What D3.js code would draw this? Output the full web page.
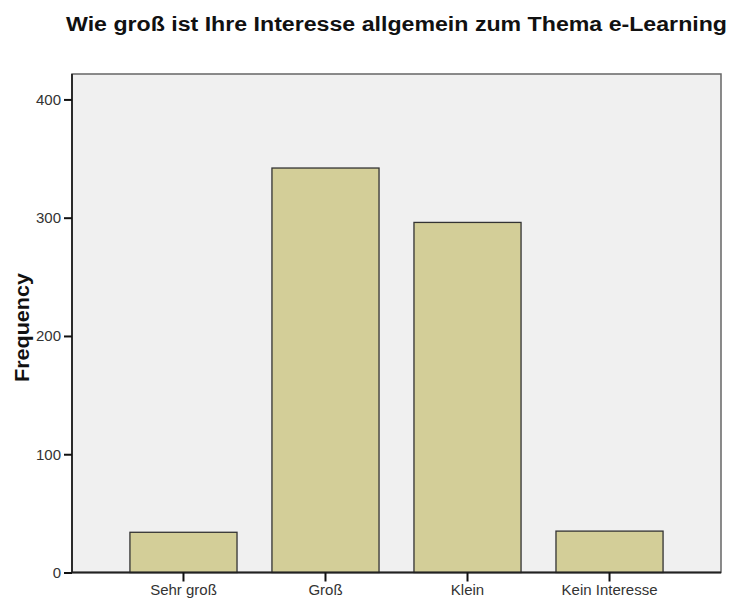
<!DOCTYPE html>
<html>
<head>
<meta charset="utf-8">
<script src="https://cdn.jsdelivr.net/npm/d3@7"></script>
<style>
  body { margin: 0; background: #fff; }
  text { font-family: "Liberation Sans", Arial, sans-serif; }
</style>
</head>
<body>
<svg id="chart" width="733" height="601"></svg>
<script>
const categories = ["Sehr groß", "Groß", "Klein", "Kein Interesse"];
const frequencies = [34, 342, 296, 35];
const yTicks = [0, 100, 200, 300, 400];
const titleText = "Wie groß ist Ihre Interesse allgemein zum Thema e-Learning";
const yLabel = "Frequency";

const svg = d3.select("#chart");
const margin = {top: 74, right: 12, bottom: 28.5, left: 72};
const width = 733 - margin.left - margin.right;
const height = 601 - margin.top - margin.bottom;

const x = d3.scaleBand()
    .domain(categories)
    .range([0, width])
    .paddingInner(0.246)
    .paddingOuter(0.408);

const y = d3.scaleLinear()
    .domain([0, 421.5])
    .range([height, 0]);

const g = svg.append("g")
    .attr("transform", `translate(${margin.left},${margin.top})`);

// plot background
g.append("rect")
    .attr("width", width)
    .attr("height", height)
    .attr("fill", "#f0f0f0")
    .attr("stroke", "#666")
    .attr("stroke-width", 1.5);

g.selectAll("rect.bar")
    .data(frequencies)
    .enter()
    .append("rect")
    .attr("class", "bar")
    .attr("x", (d, i) => x(categories[i]))
    .attr("y", d => y(d))
    .attr("width", x.bandwidth())
    .attr("height", d => height - y(d))
    .attr("fill", "#d3ce98")
    .attr("stroke", "#333")
    .attr("stroke-width", 1.3);

const yAxis = g.append("g")
    .call(d3.axisLeft(y).tickValues(yTicks).tickSize(8).tickPadding(3));
const xAxis = g.append("g")
    .attr("transform", `translate(0,${height})`)
    .call(d3.axisBottom(x).tickSize(9).tickPadding(3));

[yAxis, xAxis].forEach(a => {
    a.select(".domain").attr("stroke", "#222").attr("stroke-width", 1.8);
    a.selectAll(".tick line").attr("stroke", "#111").attr("stroke-width", 2);
    a.selectAll(".tick text")
        .attr("fill", "#333")
        .style("font-size", "15px")
        .style("font-family", "'Liberation Sans', Arial, sans-serif");
});
xAxis.select(".domain").attr("d", `M0,0H${width}`);
yAxis.select(".domain").attr("d", `M0,${height}V0`);

svg.append("text")
    .attr("x", 396.5)
    .attr("y", 31)
    .attr("text-anchor", "middle")
    .attr("textLength", 661)
    .attr("lengthAdjust", "spacingAndGlyphs")
    .style("font-size", "19.5px")
    .style("font-weight", "bold")
    .attr("fill", "#111")
    .text(titleText);

svg.append("text")
    .attr("transform", `translate(29,327.5) rotate(-90)`)
    .attr("text-anchor", "middle")
    .attr("textLength", 109)
    .attr("lengthAdjust", "spacingAndGlyphs")
    .style("font-size", "19.5px")
    .style("font-weight", "bold")
    .attr("fill", "#111")
    .text(yLabel);
</script>
</body>
</html>
